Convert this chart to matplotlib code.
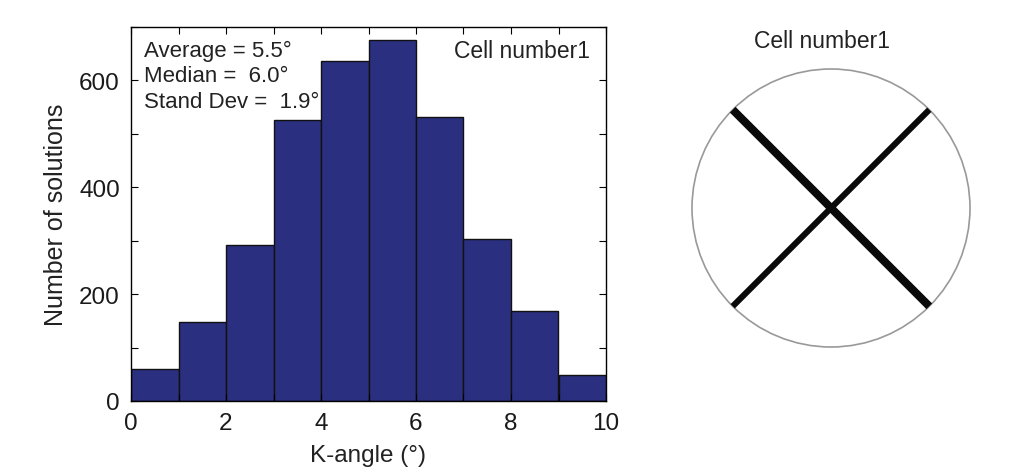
import numpy as np
import matplotlib
matplotlib.use("Agg")
import matplotlib.pyplot as plt
from matplotlib.patches import Circle

plt.rcParams['font.family'] = ['Liberation Sans', 'DejaVu Sans']

# histogram data (K-angle bins, counts)
bin_edges = [0, 1, 2, 3, 4, 5, 6, 7, 8, 9, 10]
counts = [60, 148, 292, 526, 636, 676, 532, 304, 168, 49]
stats_lines = ["Average = 5.5°", "Median =  6.0°", "Stand Dev =  1.9°"]
panel_title = "Cell number1"

# orientation of the two bundles in the cell (degrees)
line_angles = [135, 45]
line_widths = [5.8, 4.4]

fig = plt.figure(figsize=(10.23, 4.77), dpi=100)

# --- histogram ---
ax = fig.add_axes([131/1023, 75/477, 475/1023, 374/477])
ax.bar(bin_edges[:-1], counts, width=1, align='edge',
       color='#2b2f7f', edgecolor='#111111', linewidth=1)
ax.set_xlim(0, 10)
ax.set_ylim(0, 700)
ax.set_xticks(range(0, 11, 2))
ax.set_xticks(range(0, 11), minor=True)
ax.set_yticks(range(0, 701, 200))
ax.set_yticks(range(0, 701, 100), minor=True)
ax.tick_params(which='both', direction='in', top=True, right=True,
               labelsize=17.5, length=5, width=0.8, labelcolor='#1a1a1a')
ax.tick_params(axis='x', pad=8)
ax.tick_params(axis='y', pad=8)
ax.set_xlabel("K-angle (°)", fontsize=17.5, color='#222222', labelpad=7)
ax.set_ylabel("Number of solutions", fontsize=18, color='#222222', labelpad=8)
for s in ax.spines.values():
    s.set_linewidth(1)

# stats text, one line each
y_pos = [0.936, 0.869, 0.802]
for txt, yy in zip(stats_lines, y_pos):
    ax.text(0.027, yy, txt, transform=ax.transAxes,
            fontsize=16, va='center', ha='left', color='#222222')
ax.text(0.966, 0.936, panel_title, transform=ax.transAxes,
        fontsize=16.5, va='center', ha='right', color='#222222')

# --- cell sketch ---
r_px = 139
cx, cy = 831, 477 - 209
ax2 = fig.add_axes([(cx - 1.1*r_px)/1023, (cy - 1.1*r_px)/477,
                    2.2*r_px/1023, 2.2*r_px/477])
ax2.set_xlim(-1.1, 1.1)
ax2.set_ylim(-1.1, 1.1)
ax2.axis('off')
ax2.add_patch(Circle((0, 0), 1.0, fill=False, edgecolor='#999999', linewidth=1.2))
for ang, lw in zip(line_angles, line_widths):
    t = np.deg2rad(ang)
    ax2.plot([np.cos(t), -np.cos(t)], [np.sin(t), -np.sin(t)],
             color='#0a0a0a', linewidth=lw, solid_capstyle='butt')
fig.text(822/1023, 1 - 42/477, panel_title, fontsize=16.5,
         ha='center', va='center', color='#222222')

fig.savefig("out.png", dpi=100)
